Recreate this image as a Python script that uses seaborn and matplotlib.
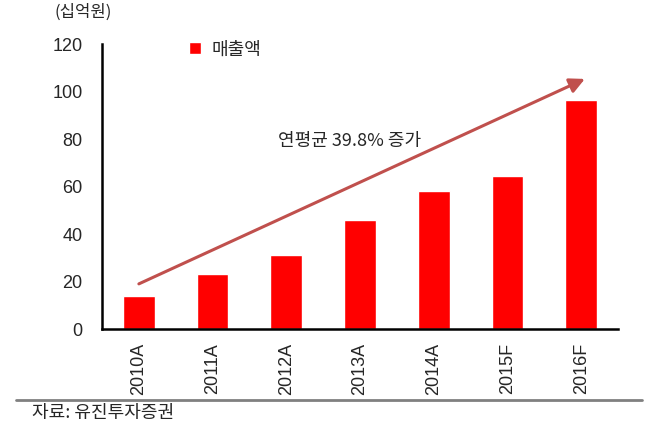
import matplotlib
matplotlib.use("Agg")
import matplotlib.pyplot as plt
import seaborn as sns
import pandas as pd

categories = ["2010A", "2011A", "2012A", "2013A", "2014A", "2015F", "2016F"]
sales = [14, 23, 31, 46, 58, 64.5, 96.5]
series_name = "매출액"
y_ticks = [0, 20, 40, 60, 80, 100, 120]
unit_label = "(십억원)"
annotation = "연평균 39.8% 증가"
source = "자료: 유진투자증권"

sns.set_style("white")
plt.rcParams['font.family'] = ['Noto Sans CJK KR', 'DejaVu Sans']

df = pd.DataFrame({"year": categories, "sales": sales})

fig = plt.figure(figsize=(6.59, 4.29), dpi=100)
ax = fig.add_axes([0.1548, 0.2331, 0.783, 0.6643])
sns.barplot(data=df, x="year", y="sales", color="#FF0000", saturation=1,
            width=0.43, ax=ax, label=series_name)

ax.set_xlim(-0.5, len(categories) - 0.5)
ax.set_ylim(0, 120)
ax.set_yticks(y_ticks)
ax.set_yticklabels([str(t) for t in y_ticks], fontsize=13, family="Liberation Sans")
ax.set_xticks(range(len(categories)))
ax.set_xticklabels(categories, rotation=90, fontsize=13, family="Liberation Sans")
ax.set_xticks([i - 0.5 for i in range(len(categories) + 1)], minor=True)
ax.tick_params(axis="x", which="major", length=0, pad=10)
ax.tick_params(axis="x", which="minor", length=4, width=1.5, color="black", direction="out")
ax.tick_params(axis="y", length=3, width=1.5, color="black", direction="out", pad=11)
ax.set_xlabel("")
ax.set_ylabel("")
for s in ["top", "right"]:
    ax.spines[s].set_visible(False)
for s in ["left", "bottom"]:
    ax.spines[s].set_color("black")
    ax.spines[s].set_linewidth(1.8)

ax.annotate("", xy=(6.05, 105.3), xytext=(0.0, 19), annotation_clip=False,
            arrowprops=dict(arrowstyle="-|>,head_length=0.9,head_width=0.45",
                            color="#C0504D", lw=2.2, shrinkA=0, shrinkB=0))
ax.text(2.86, 79, annotation, ha="center", va="center", fontsize=13)

leg = ax.legend(loc="center left", bbox_to_anchor=(0.137, 0.98), frameon=False,
                handlelength=0.65, handleheight=0.65, handletextpad=0.6, fontsize=13)

fig.text(0.082, 0.972, unit_label, fontsize=12, ha="left", va="center")
fig.add_artist(plt.Line2D([0.024, 0.974], [0.0676, 0.0676], color="#808080", lw=2,
                          transform=fig.transFigure))
fig.text(0.0486, 0.037, source, fontsize=13, ha="left", va="center")

fig.savefig("out.png", dpi=100)
